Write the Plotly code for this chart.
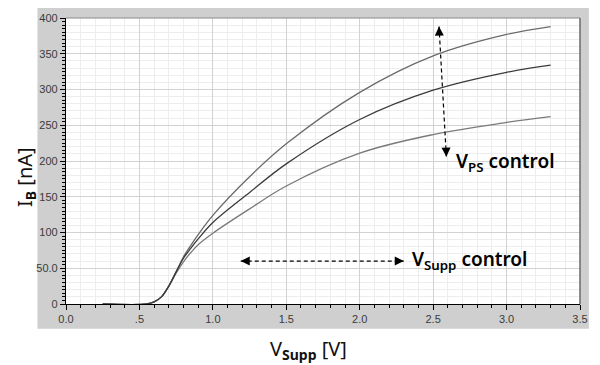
import plotly.graph_objects as go

# ---- data ----
v_supp = [0.25, 0.55, 0.6, 0.65, 0.7, 0.75, 0.8, 0.85, 0.9, 1.0, 1.25, 1.5, 2.0, 2.5, 3.0, 3.3]
ib_high = [0, 0, 3, 10, 25, 45, 66, 82, 97, 124, 178, 224, 296, 347, 377, 388]
ib_mid = [0, 0, 3, 10, 25, 45, 64, 78, 91, 114, 156, 196, 258, 299, 324, 334]
ib_low = [0, 0, 3, 10, 25, 43, 59, 72, 83, 99, 133, 165, 211, 237, 254, 262]

x_tick_vals = [0, 0.5, 1.0, 1.5, 2.0, 2.5, 3.0, 3.5]
x_tick_text = ["0.0", ".5", "1.0", "1.5", "2.0", "2.5", "3.0", "3.5"]
y_tick_vals = [0, 50, 100, 150, 200, 250, 300, 350, 400]
y_tick_text = ["0", "50.0", "100", "150", "200", "250", "300", "350", "400"]

# annotation arrows (data coords)
vps_arrow_x = [2.54, 2.59]
vps_arrow_y = [388, 206]
vsupp_arrow_x = [1.19, 2.30]
vsupp_arrow_y = [60, 60]

W, H = 600, 365
ML, MR, MT, MB = 66, 12, 15, 61
PW, PH = W - ML - MR, H - MT - MB


def px_x(p):
    return (p - ML) / PW


def px_y(p):
    return (H - MB - p) / PH


fig = go.Figure()
curve_style = dict(width=1.3, shape="spline", smoothing=1.0)
fig.add_trace(go.Scatter(x=v_supp, y=ib_low, mode="lines",
                         line=dict(color="#7a7a7a", **curve_style),
                         hoverinfo="skip", showlegend=False))
fig.add_trace(go.Scatter(x=v_supp, y=ib_high, mode="lines",
                         line=dict(color="#6a6a6a", **curve_style),
                         hoverinfo="skip", showlegend=False))
fig.add_trace(go.Scatter(x=v_supp, y=ib_mid, mode="lines",
                         line=dict(color="#3a3a3a", **curve_style),
                         hoverinfo="skip", showlegend=False))

# dashed double arrows
fig.add_trace(go.Scatter(x=vps_arrow_x, y=vps_arrow_y, mode="lines+markers",
                         line=dict(color="black", width=1.2, dash="4px,3px"),
                         marker=dict(symbol=["arrow-up", "arrow-down"], size=9,
                                     angle=[-2, -2], color="black", line=dict(width=0)),
                         hoverinfo="skip", showlegend=False))
fig.add_trace(go.Scatter(x=vsupp_arrow_x, y=vsupp_arrow_y, mode="lines+markers",
                         line=dict(color="black", width=1.2, dash="4px,3px"),
                         marker=dict(symbol=["arrow-left", "arrow-right"], size=9,
                                     color="black", line=dict(width=0)),
                         hoverinfo="skip", showlegend=False))

# invisible trace for the minor-tick overlay axis
fig.add_trace(go.Scatter(x=[0], y=[0], yaxis="y2", mode="markers",
                         marker=dict(opacity=0), hoverinfo="skip", showlegend=False))

tick_font = dict(family="Liberation Sans, Arial, sans-serif", size=11, color="#3a3a3a")

fig.update_layout(
    width=W, height=H,
    margin=dict(l=ML, r=MR, t=MT, b=MB),
    paper_bgcolor="white",
    plot_bgcolor="white",
    xaxis=dict(range=[0, 3.5], tickvals=x_tick_vals, ticktext=x_tick_text,
               showline=True, linecolor="black", linewidth=1.2,
               ticks="outside", ticklen=5, tickcolor="black", tickwidth=1.2,
               tickfont=tick_font, showgrid=True, gridcolor="#d2d2d2", gridwidth=1,
               zeroline=False,
               minor=dict(dtick=0.1, ticks="outside", ticklen=3, tickcolor="black",
                          showgrid=True, gridcolor="#ededed", gridwidth=1)),
    yaxis=dict(range=[0, 400], tickvals=y_tick_vals, ticktext=y_tick_text,
               showline=True, linecolor="black", linewidth=1.2,
               ticks="outside", ticklen=5, tickcolor="black", tickwidth=1.2,
               tickfont=tick_font, showgrid=True, gridcolor="#d2d2d2", gridwidth=1,
               zeroline=False,
               minor=dict(dtick=10, ticks="", showgrid=True, gridcolor="#ededed", gridwidth=1)),
    yaxis2=dict(range=[0, 400], overlaying="y", side="left", showgrid=False,
                showticklabels=False, zeroline=False, showline=False,
                tickvals=y_tick_vals, ticks="outside", ticklen=5, tickcolor="black",
                minor=dict(dtick=5, ticks="outside", ticklen=3, tickcolor="black")),
)

shapes = [
    # grey panel
    dict(type="rect", xref="paper", yref="paper", layer="below",
         x0=px_x(37), x1=px_x(597), y0=px_y(329), y1=px_y(5),
         fillcolor="#cfcfcf", line=dict(width=0)),
    # white plot area
    dict(type="rect", xref="paper", yref="paper", layer="below",
         x0=0, x1=1, y0=0, y1=1, fillcolor="white", line=dict(width=0)),
    # top / right frame
    dict(type="line", xref="paper", yref="paper", layer="above",
         x0=0, x1=1, y0=1, y1=1, line=dict(color="#8a8a8a", width=1.2)),
    dict(type="line", xref="paper", yref="paper", layer="above",
         x0=1, x1=1, y0=0, y1=1, line=dict(color="#6a6a6a", width=1.5)),
]
fig.update_layout(shapes=shapes)

label_font = dict(family="Noto Sans, DejaVu Sans, sans-serif", size=19, color="black", weight=600)
title_font = dict(family="Noto Sans, DejaVu Sans, sans-serif", size=20, color="#111")
annotations = [
    dict(text="V<sub>PS</sub> control", xref="paper", yref="paper",
         x=px_x(460), y=px_y(161), xanchor="left", yanchor="middle",
         showarrow=False, font=label_font),
    dict(text="V<sub>Supp</sub> control", xref="paper", yref="paper",
         x=px_x(415), y=px_y(260), xanchor="left", yanchor="middle",
         showarrow=False, font=label_font),
    dict(text="V<sub><b>Supp</b></sub> [V]", xref="paper", yref="paper",
         x=px_x(312), y=px_y(350), xanchor="center", yanchor="middle",
         showarrow=False, font=title_font),
    dict(text="I<sub><b>B</b></sub> [nA]", xref="paper", yref="paper",
         x=px_x(25), y=px_y(176), xanchor="center", yanchor="middle", textangle=-90,
         showarrow=False, font=title_font),
]
fig.update_layout(annotations=annotations)

fig.write_html("out.html")
